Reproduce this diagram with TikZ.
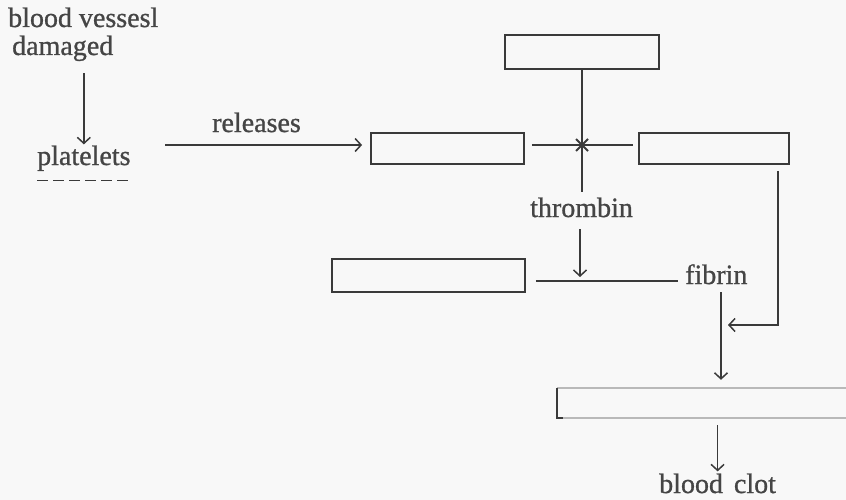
\documentclass[tikz,border=0pt]{standalone}
\usepackage{fontspec}
\setmainfont{Liberation Serif}
\newfontfamily\heavyserif{Liberation Serif}[FakeBold=0.9]
\usetikzlibrary{arrows.meta}
\definecolor{ink}{HTML}{3A3A3A}
\definecolor{txt}{HTML}{454545}
\definecolor{paper}{HTML}{F8F8F8}
\begin{document}
\begin{tikzpicture}[x=1pt,y=-1pt,
  lbl/.style={inner sep=0pt,anchor=base west,text=txt,font=\heavyserif\fontsize{28}{34}\selectfont},
  box/.style={draw=ink,line width=1.8pt,inner sep=0pt},
  conn/.style={draw=ink,line width=1.5pt},
  arr/.style={conn,-{Straight Barb[length=6pt,width=13pt,line width=1.5pt]}}]
\fill[paper] (0,0) rectangle (846,500);
\useasboundingbox (0,0) rectangle (846,500);
% text
\node[lbl] (bv) at (8,27) {blood vessesl};
\node[lbl] (dam) at (12,55) {damaged};
\node[lbl] (plat) at (37,165) {platelets};
\node[lbl] (rel) at (212,132) {releases};
\node[lbl] (thr) at (530,217) {thrombin};
\node[lbl] (fib) at (685,284) {fibrin};
\node[lbl] (clot) at (659,493) {blood\hspace{4pt} clot};
% boxes
\node[box,minimum width=154pt,minimum height=34pt] (top) at (582,52) {};
\node[box,minimum width=153pt,minimum height=31pt] (lm) at (447.5,148.5) {};
\node[box,minimum width=150pt,minimum height=31pt] (rm) at (714,148.5) {};
\node[box,minimum width=193pt,minimum height=33pt] (low) at (428.5,275.5) {};
\node[inner sep=0pt,minimum width=289pt,minimum height=30pt] (bot) at (701.5,403) {};
\draw[gray!55,line width=1.8pt] (bot.north west) -- (bot.north east);
\draw[gray!55,line width=1.8pt] (bot.south west) -- (bot.south east);
\draw[ink,line width=1.8pt] (bot.north west) -- (bot.south west) -- ++(6,0);
% coordinates
\coordinate (relstart) at (165,145);
\coordinate (cross) at (582,145);
\coordinate (fl) at (580,281);
\coordinate (join) at (721,325);
% connectors
\draw[arr,shorten <=12pt,shorten >=1pt] (plat.north |- dam.south) -- (plat.north);
\draw[conn,line width=1.2pt,dash pattern=on 11pt off 5pt] ([yshift=-9pt]plat.south west) -- ([yshift=-9pt]plat.south east);
\draw[arr,shorten >=8pt] (relstart) -- (lm.west |- relstart);
\draw[conn,shorten <=7pt,shorten >=5pt] (cross -| lm.east) -- (cross -| rm.west);
\draw[conn,shorten >=5pt] (top.south) -- (top.south |- thr.north);
\draw[ink,line width=1.8pt] ([shift={(-6,-6)}]cross) -- ([shift={(6,6)}]cross)
  ([shift={(-6,6)}]cross) -- ([shift={(6,-6)}]cross);
\draw[arr,shorten <=12pt,shorten >=4pt] (fl |- thr.south) -- (fl);
\draw[conn] ([xshift=10pt]low.east |- fl) -- ([xshift=-7pt]fib.west |- fl);
\draw[arr,shorten >=7pt] ([shift={(-12pt,-6pt)}]rm.south east) |- (join);
\draw[arr,shorten <=8pt,shorten >=8pt] (join |- fib.south) -- (join |- bot.north);
\draw[arr,shorten <=7pt,shorten >=2pt] (clot.north |- bot.south) -- (clot.north);
\end{tikzpicture}
\end{document}
